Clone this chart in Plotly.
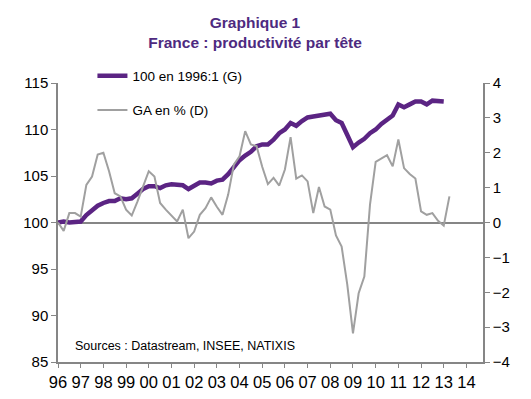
import plotly.graph_objects as go

# Quarterly periods 1996Q1 .. 2013Q2
quarters = [f"{y}Q{q}" for y in range(1996, 2014) for q in range(1, 5)][:70]

# Productivité par tête, 100 en 1996:1 (axe gauche) — 1996Q1 .. 2013Q1
productivite = [
    100.0, 100.1, 100.0, 100.0, 100.1, 100.8, 101.3, 101.8,
    102.1, 102.3, 102.3, 102.6, 102.5, 102.6, 103.1, 103.6,
    103.9, 103.9, 103.7, 104.0, 104.1, 104.0, 104.0, 103.6,
    104.0, 104.3, 104.3, 104.2, 104.5, 104.6, 105.2, 106.0,
    106.7, 107.2, 107.6, 108.2, 108.4, 108.4, 108.9, 109.6,
    110.0, 110.7, 110.4, 110.9, 111.3, 111.4, 111.5, 111.5,
    111.7, 111.0, 110.7, 109.4, 108.1, 108.6, 109.0, 109.6,
    110.0, 110.6, 111.1, 111.5, 112.7, 112.4, 112.7, 113.0,
    113.0, 112.7, 113.1, 113.1, 113.0,
]

# Glissement annuel en % (axe droit) — 1996Q1 .. 2013Q2
ga = [
    0.00, -0.24, 0.27, 0.27, 0.17, 1.08, 1.32, 1.95,
    2.00, 1.47, 0.84, 0.75, 0.37, 0.20, 0.60, 1.05,
    1.47, 1.32, 0.56, 0.37, 0.20, 0.03, 0.37, -0.45,
    -0.26, 0.22, 0.41, 0.72, 0.45, 0.22, 0.80, 1.66,
    1.90, 2.62, 2.24, 2.19, 1.60, 1.10, 1.28, 1.06,
    1.52, 2.45, 1.26, 1.35, 1.18, 0.27, 1.02, 0.46,
    0.37, -0.37, -0.69, -1.79, -3.18, -2.03, -1.55, 0.51,
    1.74, 1.83, 1.93, 1.61, 2.38, 1.56, 1.39, 1.26,
    0.32, 0.22, 0.27, 0.05, -0.09, 0.75,
]

year_ticks = list(range(1996, 2015))
year_labels = [f"{y % 100:02d}" for y in year_ticks]

left_ticks = [85, 90, 95, 100, 105, 110, 115]
right_ticks = [-4, -3, -2, -1, 0, 1, 2, 3, 4]

def qpos(label):
    y, q = label.split("Q")
    return int(y) + (int(q) - 1) / 4

x_all = [qpos(q) for q in quarters]

PURPLE = "#5b2483"
GREY = "#a0a0a0"
AXIS = "#868686"
FONT = "Liberation Sans, Arial, sans-serif"

fig = go.Figure()
fig.add_trace(go.Scatter(
    x=x_all[:len(productivite)], y=productivite, mode="lines",
    name="100 en 1996:1 (G)", line=dict(color=PURPLE, width=4.5),
    yaxis="y", legend="legend", showlegend=True,
))
fig.add_trace(go.Scatter(
    x=x_all[:len(ga)], y=ga, mode="lines",
    name="GA en % (D)", line=dict(color=GREY, width=2),
    yaxis="y2", legend="legend2", showlegend=True,
))

# The page body has an 8px default margin: size the figure to fit the window.
OFF = 8
W, H = 531 - OFF, 399 - OFF
# plot area in window pixels
L, R, T, B = 57.5, 483.3, 82.7, 361.7
pw, ph = R - L, B - T

def px_x(x):
    return (x - L) / pw

def px_y(y):
    return (B - y) / ph

fig.update_layout(
    width=W, height=H,
    margin=dict(l=L - OFF, r=W - (R - OFF), t=T - OFF, b=H - (B - OFF),
                pad=0, autoexpand=False),
    paper_bgcolor="white", plot_bgcolor="white",
    showlegend=True,
    font=dict(family=FONT, color="black", size=15),
    title=dict(
        text="Graphique 1<br>France : productivité par tête",
        x=(255 - OFF) / W, xanchor="center", xref="container",
        y=1 - 20 / H, yanchor="top", yref="container",
        font=dict(family=FONT, size=15.5, color="#4e2a80", weight="bold"),
    ),
    xaxis=dict(
        range=[1996, 2014.73], tickmode="array", tickvals=year_ticks,
        ticktext=year_labels, showgrid=False, zeroline=False,
        showline=True, linecolor=AXIS, linewidth=1.5,
        ticks="outside", ticklen=4, tickcolor=AXIS, tickwidth=1.2,
        tickfont=dict(size=16.5),
    ),
    yaxis=dict(
        range=[85, 115], tickmode="array", tickvals=left_ticks,
        showgrid=False, zeroline=False, showline=True, linecolor=AXIS,
        linewidth=1.5, ticks="outside", ticklen=5, tickcolor=AXIS,
        tickwidth=1.2, tickfont=dict(size=15),
    ),
    yaxis2=dict(
        range=[-4, 4], tickmode="array", tickvals=right_ticks,
        overlaying="y", side="right", showgrid=False,
        zeroline=True, zerolinecolor=AXIS, zerolinewidth=1.5,
        showline=True, linecolor=AXIS, linewidth=1.5, ticks="outside",
        ticklen=5, tickcolor=AXIS, tickwidth=1.2, tickfont=dict(size=15),
    ),
    legend=dict(
        x=px_x(92), y=px_y(75.7), xanchor="left", yanchor="middle",
        bgcolor="rgba(0,0,0,0)", font=dict(size=13.5),
    ),
    legend2=dict(
        x=px_x(92), y=px_y(110), xanchor="left", yanchor="middle",
        bgcolor="rgba(0,0,0,0)", font=dict(size=13.5),
    ),
    annotations=[dict(
        text="Sources : Datastream, INSEE, NATIXIS",
        xref="paper", yref="paper", x=px_x(73), y=px_y(346),
        xanchor="left", yanchor="middle", showarrow=False,
        font=dict(size=12.5, color="black"),
    )],
)

fig.write_html("out.html")
